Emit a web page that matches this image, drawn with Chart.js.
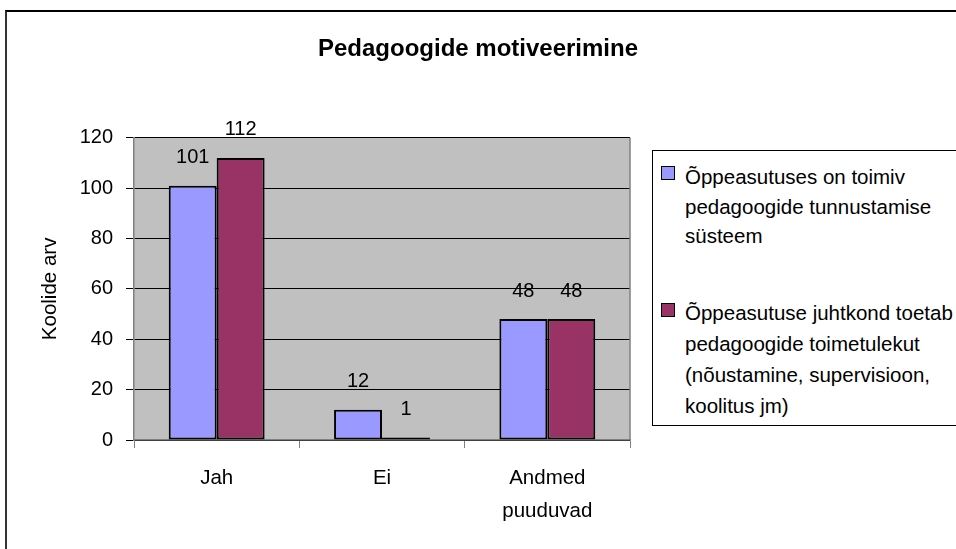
<!DOCTYPE html>
<html>
<head>
<meta charset="utf-8">
<script src="https://cdn.jsdelivr.net/npm/chart.js@4/dist/chart.umd.min.js"></script>
<style>
  html, body { margin: 0; padding: 0; background: #fff; }
  #wrap { position: relative; width: 956px; height: 549px; overflow: hidden; font-family: "Liberation Sans", Arial, sans-serif; }
  #frame { position: absolute; left: 5px; top: 10px; width: 1000px; height: 600px; border-left: 2px solid #333; border-top: 2px solid #000; pointer-events: none; }
  #legend { position: absolute; left: 652px; top: 150px; width: 330px; height: 276px; border: 1px solid #000; box-sizing: border-box; background: #fff; }
  .item { position: absolute; left: 0; }
  .sw { position: absolute; left: 8px; width: 14px; height: 14px; border: 1.5px solid #000; box-sizing: border-box; }
  .txt { position: absolute; left: 32px; top: 0; font-size: 20.5px; color: #000; white-space: nowrap; }
</style>
</head>
<body>
<div id="wrap">
  <canvas id="c"></canvas>
  <div id="legend"></div>
  <div id="frame"></div>
</div>
<script>
// ---- data ----
const chartTitle = 'Pedagoogide motiveerimine';
const yAxisTitle = 'Koolide arv';
const categories = [['Jah'], ['Ei'], ['Andmed', 'puuduvad']];
const seriesALines = ['Õppeasutuses on toimiv', 'pedagoogide tunnustamise', 'süsteem'];
const seriesBLines = ['Õppeasutuse juhtkond toetab', 'pedagoogide toimetulekut', '(nõustamine, supervisioon,', 'koolitus jm)'];
const seriesA = [101, 12, 48];
const seriesB = [112, 1, 48];
const yTicks = [0, 20, 40, 60, 80, 100, 120];
const colorA = '#9999FF';
const colorB = '#993366';

const FONT = '"Liberation Sans", Arial, sans-serif';

const plotBg = {
  id: 'plotBg',
  beforeDraw(chart) {
    const {ctx, chartArea: a} = chart;
    ctx.save();
    ctx.fillStyle = '#C0C0C0';
    ctx.fillRect(a.left, a.top, a.right - a.left, a.bottom - a.top);
    ctx.restore();
  },
  afterDatasetsDraw(chart) {
    const {ctx, chartArea: a} = chart;
    ctx.save();
    ctx.strokeStyle = '#808080';
    ctx.lineWidth = 1.5;
    ctx.beginPath();
    ctx.moveTo(a.right, a.bottom);
    ctx.lineTo(a.right, a.top);
    ctx.stroke();
    ctx.restore();
  }
};

const dataLabels = {
  id: 'dataLabels',
  afterDatasetsDraw(chart) {
    const {ctx} = chart;
    ctx.save();
    ctx.font = '20px ' + FONT;
    ctx.fillStyle = '#000';
    ctx.textAlign = 'center';
    ctx.textBaseline = 'middle';
    chart.data.datasets.forEach((ds, di) => {
      const meta = chart.getDatasetMeta(di);
      meta.data.forEach((el, i) => {
        ctx.fillText(String(ds.data[i]), el.x, el.y - 28);
      });
    });
    ctx.restore();
  }
};

const chart = new Chart(document.getElementById('c'), {
  type: 'bar',
  data: {
    labels: categories,
    datasets: [
      { label: seriesALines.join(' '), data: seriesA, backgroundColor: colorA, borderColor: '#000', borderWidth: 2, borderSkipped: false },
      { label: seriesBLines.join(' '), data: seriesB, backgroundColor: colorB, borderColor: '#000', borderWidth: 2, borderSkipped: false }
    ]
  },
  options: {
    responsive: true,
    maintainAspectRatio: false,
    animation: false,
    layout: { padding: { left: 0, right: 0, top: 0, bottom: 0 } },
    datasets: { bar: { categoryPercentage: 0.58, barPercentage: 1.0 } },
    plugins: {
      legend: { display: false },
      tooltip: { enabled: false },
      title: {
        display: true,
        text: chartTitle,
        color: '#000',
        font: { family: FONT, size: 24, weight: 'bold', lineHeight: 1.2 },
        padding: { top: 35, bottom: 74 }
      }
    },
    scales: {
      x: {
        grid: { display: true, drawOnChartArea: false, drawTicks: true, tickLength: 8, color: '#808080', offset: true },
        border: { display: true, color: '#808080', width: 1.5 },
        ticks: { color: '#000', padding: 14, font: { family: FONT, size: 20.5, lineHeight: 1.6 }, maxRotation: 0, autoSkip: false },
        afterFit(s) { s.height = 109; }
      },
      y: {
        min: 0, max: 120,
        afterBuildTicks(s) { s.ticks = yTicks.map(v => ({ value: v })); },
        grid: { color: '#000', lineWidth: 1, tickLength: 8, drawTicks: true },
        border: { display: true, color: '#808080', width: 1.5 },
        ticks: { color: '#000', padding: 13, font: { family: FONT, size: 20 } },
        title: { display: true, text: yAxisTitle, color: '#000', font: { family: FONT, size: 20.5, lineHeight: 1.2 }, padding: { top: 38, bottom: 0 } },
        afterFit(s) { s.width = 134; }
      },
      spacer: {
        type: 'linear',
        position: 'right',
        display: true,
        grid: { display: false, drawOnChartArea: false },
        border: { display: false },
        ticks: { display: false },
        afterFit(s) { s.width = 326; }
      }
    }
  },
  plugins: [plotBg, dataLabels]
});

// HTML legend built from the same series definitions
const legend = document.getElementById('legend');
const legendItems = [
  { lines: seriesALines, color: colorA, top: 11, lh: 29.5, swTop: 4 },
  { lines: seriesBLines, color: colorB, top: 145.5, lh: 31, swTop: 6.5 }
];
legendItems.forEach(it => {
  const item = document.createElement('div');
  item.className = 'item';
  item.style.top = it.top + 'px';
  const sw = document.createElement('div');
  sw.className = 'sw';
  sw.style.background = it.color;
  sw.style.top = it.swTop + 'px';
  const txt = document.createElement('div');
  txt.className = 'txt';
  txt.style.lineHeight = it.lh + 'px';
  txt.innerHTML = it.lines.map(l => l.replace(/&/g, '&amp;').replace(/</g, '&lt;')).join('<br>');
  item.appendChild(sw);
  item.appendChild(txt);
  legend.appendChild(item);
});
</script>
</body>
</html>
